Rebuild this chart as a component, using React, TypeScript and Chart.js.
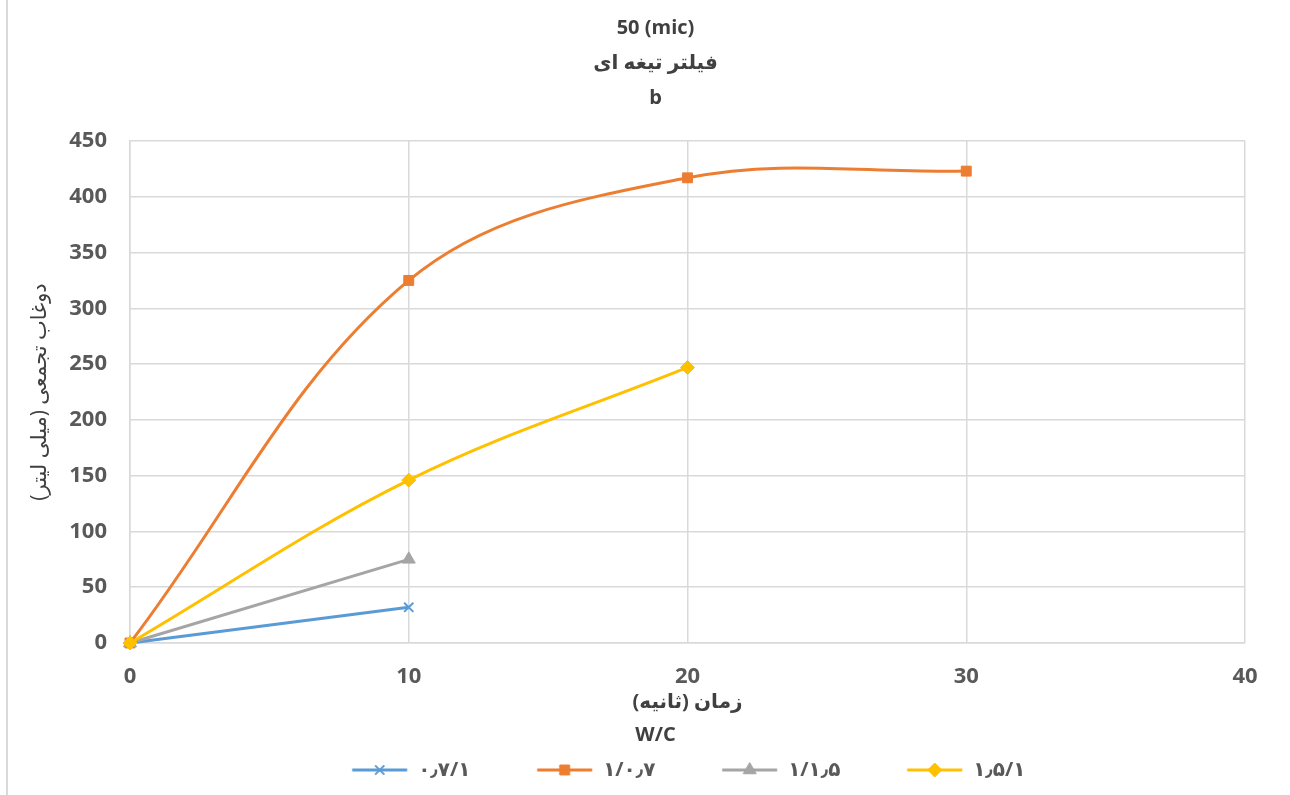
import React, { useEffect, useRef } from 'react';
import { Chart, registerables } from 'chart.js';
import { drawPoint } from 'chart.js/helpers';

Chart.register(...registerables);

// ---- data ----
const timeSec = [0, 10, 20, 30];
const wc07_1 = [0, 32];
const wc1_07 = [0, 325, 417, 423];
const wc1_15 = [0, 75];
const wc15_1 = [0, 146, 247];
const seriesValues = [wc07_1, wc1_07, wc1_15, wc15_1];
const seriesNames = ['۰٫۷/۱', '۱/۰٫۷', '۱/۱٫۵', '۱٫۵/۱'];
const xTickValues = [0, 10, 20, 30, 40];
const yTickValues = [0, 50, 100, 150, 200, 250, 300, 350, 400, 450];
const titleLines = ['50 (mic)', 'فیلتر تیغه ای', 'b'];
const xTitle = 'زمان (ثانیه)';
const yTitle = 'دوغاب تجمعی (میلی لیتر)';
const legendTitle = 'W/C';

// ---- styles ----
const seriesColors = ['#5B9BD5', '#ED7D31', '#A5A5A5', '#FFC000'];
const seriesMarkers = ['crossRot', 'rect', 'triangle', 'rectRot'];
const markerRadius = [6.5, 7, 7.5, 7];
const seriesTension = [0, 0.36, 0, 0.36];
const FONT = "'Open Sans', 'DejaVu Sans', sans-serif";
const LEGEND_FONT_SIZE = 20;
const LEGEND_STRIDE = 185;
const LEGEND_LINE = 55;
const LEGEND_LINE_TO_TEXT = 66;
const PAD_L = 8;
const PAD_R = -13;
const CANVAS_W = 1290;

function legendImage(color: string, marker: string, radius: number, offset: number): HTMLCanvasElement {
  // offset: line start relative to box centre
  const half = Math.ceil(Math.max(Math.abs(offset), Math.abs(offset + LEGEND_LINE))) + 10;
  const c = document.createElement('canvas');
  c.width = half * 2;
  c.height = 20;
  const ctx = c.getContext('2d')!;
  const x0 = half + offset;
  ctx.strokeStyle = color;
  ctx.lineWidth = 3;
  ctx.beginPath();
  ctx.moveTo(x0, 10);
  ctx.lineTo(x0 + LEGEND_LINE, 10);
  ctx.stroke();
  ctx.fillStyle = color;
  ctx.strokeStyle = color;
  const bw = marker === 'crossRot' ? 2 : 1;
  ctx.lineWidth = bw;
  drawPoint(ctx, { pointStyle: marker as any, radius, borderWidth: bw, rotation: 0 } as any, x0 + LEGEND_LINE / 2, 10);
  return c;
}

const borderPlugin = {
  id: 'outerBorder',
  beforeDraw(chart: any) {
    const ctx = chart.ctx;
    ctx.save();
    ctx.fillStyle = '#d9d9d9';
    ctx.fillRect(6, 0, 2, chart.height);
    ctx.restore();
  },
};

export default function App() {
  const ref = useRef<HTMLCanvasElement | null>(null);

  useEffect(() => {
    if (!ref.current) return;
    // legend geometry
    const mctx = document.createElement('canvas').getContext('2d')!;
    mctx.font = `bold ${LEGEND_FONT_SIZE}px ${FONT}`;
    const widths = seriesNames.map((t) => mctx.measureText(t).width);
    const tAvg = widths.reduce((a, b) => a + b, 0) / widths.length;
    const boxW = Math.max(20, LEGEND_STRIDE - LEGEND_FONT_SIZE / 2 - tAvg);
    const rowW = widths.reduce((a, w) => a + boxW + LEGEND_FONT_SIZE / 2 + w, 0);
    const start = (PAD_L + (CANVAS_W - PAD_R) - rowW) / 2;
    const textStart = start + boxW + LEGEND_FONT_SIZE / 2;
    const lineOffset = textStart - LEGEND_LINE_TO_TEXT - (start + boxW / 2);
    const images = seriesColors.map((c, i) => legendImage(c, seriesMarkers[i], markerRadius[i], lineOffset));

    const n = seriesValues.length;
    const datasets = seriesValues.map((vals, i) => ({
      label: seriesNames[i],
      data: vals.map((v, j) => ({ x: timeSec[j], y: v })),
      borderColor: seriesColors[i],
      backgroundColor: seriesColors[i],
      borderWidth: 3,
      pointStyle: seriesMarkers[i] as any,
      pointRadius: markerRadius[i],
      pointBorderWidth: seriesMarkers[i] === 'crossRot' ? 2 : 1,
      pointBackgroundColor: seriesColors[i],
      pointBorderColor: seriesColors[i],
      tension: seriesTension[i],
      fill: false,
      clip: false as any,
      order: n - 1 - i,
      yAxisID: 'y',
    }));

    const chart = new Chart(ref.current, {
      type: 'line',
      data: { datasets },
      plugins: [borderPlugin],
      options: {
        responsive: false,
        animation: false,
        devicePixelRatio: 1,
        layout: { padding: { left: PAD_L, right: PAD_R, top: 8, bottom: 5 } },
        plugins: {
          tooltip: { enabled: false },
          title: {
            display: true,
            text: titleLines,
            color: '#404040',
            font: { family: FONT, size: 20, weight: 'bold', lineHeight: 35 / 20 },
            padding: { top: 3, bottom: 25 },
          },
          legend: {
            position: 'bottom',
            title: {
              display: true,
              text: legendTitle,
              color: '#404040',
              font: { family: FONT, size: 20, weight: 'bold' },
              padding: { top: 3, bottom: 11 },
            },
            labels: {
              usePointStyle: true,
              pointStyleWidth: boxW,
              boxHeight: LEGEND_FONT_SIZE,
              padding: 0,
              color: '#595959',
              font: { family: FONT, size: LEGEND_FONT_SIZE, weight: 'bold' },
              generateLabels: () =>
                seriesNames.map((name, i) => ({
                  text: name,
                  fillStyle: seriesColors[i],
                  strokeStyle: seriesColors[i],
                  fontColor: '#595959',
                  lineWidth: 0,
                  pointStyle: images[i] as any,
                  hidden: false,
                  datasetIndex: i,
                })),
            },
          },
        },
        scales: {
          x: {
            type: 'linear',
            min: 0,
            max: 40,
            afterBuildTicks: (s: any) => {
              s.ticks = xTickValues.map((v) => ({ value: v }));
            },
            afterFit: (s: any) => {
              s.height = 79;
            },
            grid: { color: '#d9d9d9', lineWidth: 1.5, drawTicks: false },
            border: { color: '#d9d9d9', width: 1.5 },
            ticks: {
              color: '#595959',
              padding: 21,
              font: { family: FONT, size: 22, weight: 'bold' },
            },
            title: {
              display: true,
              text: xTitle,
              color: '#404040',
              font: { family: FONT, size: 20, weight: 'bold' },
              padding: { top: 0, bottom: 8 },
            },
          },
          y: {
            type: 'linear',
            position: 'left',
            min: 0,
            max: 450,
            afterBuildTicks: (s: any) => {
              s.ticks = yTickValues.map((v) => ({ value: v }));
            },
            afterFit: (s: any) => {
              s.width = 130 - PAD_L;
            },
            grid: { color: '#d9d9d9', lineWidth: 1.5, drawTicks: false },
            border: { color: '#d9d9d9', width: 1.5 },
            ticks: {
              color: '#595959',
              padding: 23,
              font: { family: FONT, size: 22, weight: 'bold' },
            },
            title: {
              display: true,
              text: yTitle,
              color: '#404040',
              font: { family: FONT, size: 21, weight: 'normal' },
              padding: { top: 19, bottom: 0 },
            },
          },
          y2: {
            type: 'linear',
            position: 'right',
            display: true,
            afterFit: (s: any) => {
              s.width = CANVAS_W - PAD_R - 1245;
            },
            grid: { display: false, drawTicks: false },
            border: { display: false },
            ticks: { display: false },
          },
        },
      },
    } as any);
    return () => chart.destroy();
  }, []);

  return (
    <div style={{ position: 'fixed', left: 0, top: 0, width: 1290, height: 795, background: '#fff' }}>
      <canvas ref={ref} width={1290} height={795} style={{ width: 1290, height: 795, display: 'block' }} />
    </div>
  );
}
